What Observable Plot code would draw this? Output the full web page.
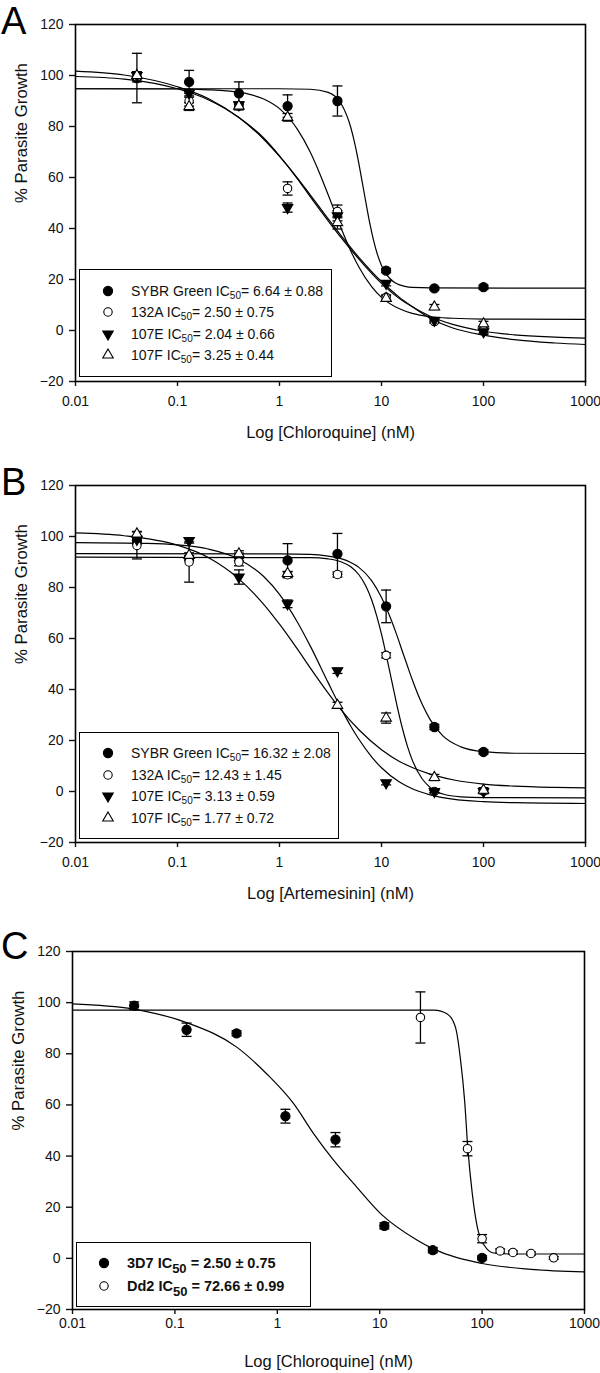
<!DOCTYPE html>
<html>
<head>
<meta charset="utf-8">
<script src="https://cdn.jsdelivr.net/npm/d3@7"></script>
<script src="https://cdn.jsdelivr.net/npm/@observablehq/plot@0.6"></script>
<style>
  body { margin: 0; background: #fff; font-family: "Liberation Sans", Arial, sans-serif; }
  .panel { position: relative; width: 600px; overflow: hidden; }
  .panel svg { display: block; }
  .letter { position: absolute; left: 1px; font-size: 38px; line-height: 40px; color: #000; }
  .legend { position: absolute; box-sizing: border-box; border: 1.6px solid #000; background: #fff; }
  .legend .sym { position: absolute; width: 14px; height: 14px; }
  .legend .txt { position: absolute; font-size: 14px; line-height: 18px; white-space: nowrap; color: #111; }
  .legend .txt sub { font-size: 10px; vertical-align: -3px; line-height: 0; }
  .legend.bold .txt { font-weight: bold; font-size: 14.5px; }
  .legend.bold .txt sub { font-size: 13px; vertical-align: -5px; }
</style>
</head>
<body>
<div id="root"></div>
<script>
// ---------------- shared axes ----------------
const xTicks = [0.01, 0.1, 1, 10, 100, 1000];
const yTicks = [-20, 0, 20, 40, 60, 80, 100, 120];

// ---------------- Panel A : Chloroquine ----------------
const concA = [0.04, 0.13, 0.4, 1.2, 3.7, 11.1, 33, 100];
const aSybr    = [99.0, 97.5, 93.0, 88.0, 90.0, 23.5, 16.5, 17.0];
const aSybrErr = [9.7, 4.5, 4.5, 4.4, 5.9, 0.8, 0.5, 0.8];
const a132A    = [99.5, 90.0, 88.0, 55.7, 46.7, 13.0, 3.5, 0.0];
const a132AErr = [2.0, 2.0, 1.5, 2.6, 2.5, 1.0, 0.6, 1.0];
const a107E    = [100.0, 93.0, 88.5, 48.2, 45.0, 18.5, 4.0, -0.5];
const a107EErr = [1.0, 1.5, 1.0, 1.8, 2.0, 1.0, 0.6, 1.0];
const a107F    = [100.0, 87.8, 88.0, 83.6, 42.3, 12.6, 9.2, 2.6];
const a107FErr = [1.0, 1.5, 1.2, 1.5, 2.5, 1.0, 1.0, 1.0];

const aSybrCurveX = [0.01, 1, 2, 3, 4, 5, 5.5, 6, 6.5, 7, 7.5, 8, 9, 10, 11, 12, 14, 17, 20, 30, 1000];
const aSybrCurveY = [94.8, 94.8, 94.6, 93.4, 89.1, 79.6, 72.9, 65.4, 57.8, 50.6, 44.1, 38.7, 30.6, 25.5, 22.4, 20.5, 18.4, 17.3, 16.9, 16.7, 16.6];
const a132ACurveX = [0.01, 0.03, 0.1, 0.2, 0.4, 0.7, 1, 1.5, 2, 3, 4, 6, 10, 15, 20, 30, 50, 100, 200, 500, 1000];
const a132ACurveY = [101.7, 100.2, 95.6, 91.0, 83.5, 75.0, 68.3, 59.8, 53.2, 43.8, 37.3, 28.7, 19.2, 13.0, 9.4, 4.8, 1.0, -1.8, -3.6, -4.9, -5.5];
const a107ECurveX = [0.01, 0.03, 0.1, 0.2, 0.4, 0.7, 1, 1.5, 2, 3, 4, 6, 10, 15, 20, 30, 50, 100, 200, 500, 1000];
const a107ECurveY = [99.6, 98.6, 94.8, 90.5, 83.5, 75.5, 68.5, 59.5, 52.5, 43.0, 36.5, 28.0, 18.5, 12.5, 9.3, 5.6, 2.4, -0.3, -1.7, -2.6, -3.0];
const a107FCurveX = [0.01, 0.1, 0.2, 0.3, 0.5, 0.7, 1, 1.5, 2, 2.5, 3, 4, 5, 6, 8, 10, 15, 20, 30, 50, 100, 1000];
const a107FCurveY = [94.8, 94.7, 94.4, 94.0, 92.7, 90.8, 87.0, 78.9, 70.0, 61.2, 53.2, 40.3, 31.2, 24.9, 17.2, 13.0, 8.5, 6.7, 5.4, 4.8, 4.5, 4.4];
const legendA = [
  ["SYBR Green IC", "50", "= 6.64 ± 0.88"],
  ["132A IC", "50", "= 2.50 ± 0.75"],
  ["107E IC", "50", "= 2.04 ± 0.66"],
  ["107F IC", "50", "= 3.25 ± 0.44"]
];

// ---------------- Panel B : Artemesinin ----------------
const concB = [0.04, 0.13, 0.4, 1.2, 3.7, 11.1, 33, 100];
const bSybr    = [98.5, 91.5, 92.0, 90.6, 93.2, 72.6, 25.3, 15.5];
const bSybrErr = [1.5, 1.0, 1.5, 6.6, 8.0, 6.4, 1.0, 0.8];
const b132A    = [96.5, 90.0, 90.0, 85.0, 85.1, 53.4, 0.0, 0.1];
const b132AErr = [5.3, 7.9, 1.5, 1.2, 1.0, 1.0, 0.5, 1.0];
const b107E    = [98.9, 98.4, 84.1, 73.6, 47.3, 3.4, 0.0, 0.0];
const b107EErr = [1.2, 1.0, 2.8, 1.5, 1.0, 0.8, 0.5, 0.5];
const b107F    = [101.0, 92.6, 93.2, 85.5, 33.8, 28.8, 5.5, 0.5];
const b107FErr = [1.0, 1.0, 1.2, 0.8, 1.2, 2.0, 1.2, 1.0];

const bSybrCurveX = [0.01, 1, 2, 3, 4, 5, 6, 8, 10, 12, 14, 16, 18, 20, 25, 30, 40, 60, 100, 200, 1000];
const bSybrCurveY = [93.3, 93.2, 93.0, 92.3, 91.3, 89.8, 87.9, 82.7, 76.1, 68.9, 61.8, 55.0, 49.1, 43.9, 34.3, 28.2, 21.8, 17.5, 15.6, 15.0, 14.9];
const b132ACurveX = [0.01, 2, 3, 4, 5, 6, 7, 8, 9, 10, 11, 12, 13, 14, 16, 18, 20, 25, 30, 40, 60, 100, 1000];
const b132ACurveY = [91.9, 91.7, 91.2, 90.1, 88.1, 85.0, 80.7, 75.2, 68.7, 61.7, 54.4, 47.4, 40.8, 34.8, 24.9, 17.6, 12.4, 5.0, 1.6, -1.0, -2.1, -2.4, -2.5];
const b107ECurveX = [0.01, 0.05, 0.1, 0.2, 0.4, 0.7, 1, 1.5, 2, 3, 4, 5, 6, 8, 10, 15, 20, 30, 50, 100, 200, 1000];
const b107ECurveY = [97.6, 97.3, 96.7, 95.1, 91.1, 84.3, 77.3, 66.4, 57.1, 42.7, 32.7, 25.6, 20.5, 13.6, 9.3, 3.7, 1.1, -1.3, -3.0, -4.0, -4.4, -4.7];
const b107FCurveX = [0.01, 0.03, 0.1, 0.2, 0.4, 0.7, 1, 1.5, 2, 3, 4, 6, 10, 15, 20, 30, 50, 100, 200, 500, 1000];
const b107FCurveY = [101.4, 100.3, 96.6, 91.8, 83.4, 73.4, 65.6, 55.8, 48.5, 38.6, 32.1, 24.2, 16.4, 11.8, 9.4, 6.8, 4.6, 2.9, 2.1, 1.6, 1.4];
const legendB = [
  ["SYBR Green IC", "50", "= 16.32 ± 2.08"],
  ["132A IC", "50", "= 12.43 ± 1.45"],
  ["107E IC", "50", "= 3.13 ± 0.59"],
  ["107F IC", "50", "= 1.77 ± 0.72"]
];

// ---------------- Panel C : Chloroquine, 3D7 vs Dd2 ----------------
const conc3D7 = [0.04, 0.13, 0.4, 1.2, 3.7, 11.1, 33, 100];
const c3D7    = [98.8, 89.4, 88.0, 55.6, 46.4, 12.7, 3.2, 0.2];
const c3D7Err = [1.5, 2.6, 1.0, 2.7, 2.8, 1.2, 1.0, 0.8];
const concDd2 = [25, 72, 100, 150, 200, 300, 500];
const cDd2    = [94.2, 42.9, 7.7, 2.9, 2.3, 1.9, 0.2];
const cDd2Err = [10.0, 2.8, 1.6, 0.8, 0.6, 0.6, 0.5];

const c3D7CurveX = [0.01, 0.039, 0.128, 0.405, 0.79, 1.45, 2.27, 3.56, 5.58, 10.2, 23.3, 33, 100, 300, 1000];
const c3D7CurveY = [99.5, 97.5, 92.3, 82.5, 72.1, 60.4, 48.7, 38.3, 29.2, 17.5, 7.1, 3.8, -2.0, -4.3, -5.3];
const cDd2CurveX = [0.01, 34, 45.7, 55, 61.7, 67.5, 72.6, 80.2, 89.7, 105, 129, 200, 1000];
const cDd2CurveY = [97.1, 97.1, 95.6, 90.3, 77.3, 61.7, 42.9, 25.3, 12.3, 5.1, 2.1, 1.7, 1.7];
const legendC = [
  ["3D7 IC", "50", " = 2.50 ± 0.75"],
  ["Dd2 IC", "50", " = 72.66 ± 0.99"]
];

// ---------------- styling helpers ----------------
const markers = {
  filledCircle: {symbol: "circle", fill: "black", r: 4.6, rotate: 0},
  openCircle:   {symbol: "circle", fill: "white", r: 4.2, rotate: 0},
  filledDown:   {symbol: "triangle", fill: "black", r: 3.9, rotate: 180},
  openUp:       {symbol: "triangle", fill: "white", r: 3.9, rotate: 0}
};
const capSymbol = {draw(ctx) { ctx.moveTo(-5, 0); ctx.lineTo(5, 0); }};
const FONT = "'Liberation Sans', Arial, sans-serif";

function buildSeries(list) {
  return list.map(([marker, conc, vals, errs, cx, cy]) => ({
    marker,
    points: conc.map((c, i) => ({x: c, y: vals[i], lo: vals[i] - errs[i], hi: vals[i] + errs[i]})),
    curve: cx.map((c, i) => ({x: c, y: cy[i]}))
  }));
}

function makePlot({height, marginTop, marginBottom, marginLeft, marginRight, xTitle, series, xLabelPad, xTitleOffset}) {
  const marks = [
    Plot.axisX({ticks: xTicks, tickFormat: d => String(d), tickSize: 5, tickPadding: xLabelPad, label: null,
                fontSize: 14, strokeWidth: 1.4, fill: "#111"}),
    Plot.axisY({ticks: yTicks, tickSize: 6, tickPadding: 6, label: null, fontSize: 14, strokeWidth: 1.4, fill: "#111"})
  ];
  for (const s of series) {
    marks.push(Plot.line(s.curve, {x: "x", y: "y", curve: "monotone-x", stroke: "black", strokeWidth: 1.2}));
  }
  for (const s of series) {
    marks.push(Plot.ruleX(s.points, {x: "x", y1: "lo", y2: "hi", stroke: "black", strokeWidth: 1.3}));
    marks.push(Plot.dot(s.points, {x: "x", y: "lo", symbol: capSymbol, fill: "none", stroke: "black", strokeWidth: 1.3}));
    marks.push(Plot.dot(s.points, {x: "x", y: "hi", symbol: capSymbol, fill: "none", stroke: "black", strokeWidth: 1.3}));
  }
  for (const s of series) {
    const m = markers[s.marker];
    marks.push(Plot.dot(s.points, {x: "x", y: "y", symbol: m.symbol, r: m.r, rotate: m.rotate,
                                   fill: m.fill, stroke: "black", strokeWidth: 1.1}));
  }
  marks.push(Plot.frame({stroke: "black", strokeWidth: 1.6}));
  marks.push(Plot.text([xTitle], {text: d => d, frameAnchor: "bottom", dy: xTitleOffset, lineAnchor: "middle",
                                  fontSize: 16.5, fill: "#111"}));
  marks.push(Plot.text(["% Parasite Growth"], {text: d => d, frameAnchor: "left", rotate: -90, dx: -54,
                                               lineAnchor: "middle", fontSize: 16.8, fill: "#111"}));
  return Plot.plot({
    width: 600, height, marginTop, marginBottom, marginLeft, marginRight,
    style: {fontFamily: FONT, fontSize: "14px", color: "#111", background: "white", overflow: "visible"},
    x: {type: "log", domain: [0.01, 1000]},
    y: {domain: [-20, 120]},
    marks
  });
}

function symbolSvg(marker) {
  const m = markers[marker];
  const type = m.symbol === "circle" ? d3.symbolCircle : d3.symbolTriangle;
  const path = d3.symbol().type(type).size(Math.PI * m.r * m.r)();
  return `<svg class="sym-svg" width="14" height="14" viewBox="-7 -7 14 14"><path d="${path}" transform="rotate(${m.rotate})" fill="${m.fill}" stroke="black" stroke-width="1.1"/></svg>`;
}

function addPanel({letter, letterTop, height, plotOpts, legend}) {
  const div = document.createElement("div");
  div.className = "panel";
  div.style.height = height + "px";
  div.appendChild(makePlot({height, ...plotOpts}));
  const L = document.createElement("div");
  L.className = "letter";
  L.style.top = letterTop + "px";
  L.textContent = letter;
  div.appendChild(L);
  const box = document.createElement("div");
  box.className = "legend" + (legend.bold ? " bold" : "");
  Object.assign(box.style, {left: legend.left + "px", top: legend.top + "px",
    width: legend.width + "px", height: legend.height + "px"});
  legend.rows.forEach((row, i) => {
    const cy = legend.rowY[i] - legend.top;
    const sym = document.createElement("div");
    sym.className = "sym";
    sym.style.left = (legend.symX - legend.left - 7) + "px";
    sym.style.top = (cy - 7) + "px";
    sym.innerHTML = symbolSvg(legend.markers[i]);
    box.appendChild(sym);
    const t = document.createElement("div");
    t.className = "txt";
    t.style.left = (legend.textX - legend.left) + "px";
    t.style.top = (cy - 9) + "px";
    t.innerHTML = `${row[0]}<sub>${row[1]}</sub>${row[2]}`;
    box.appendChild(t);
  });
  div.appendChild(box);
  document.getElementById("root").appendChild(div);
}

const seriesA = buildSeries([
  ["filledCircle", concA, aSybr, aSybrErr, aSybrCurveX, aSybrCurveY],
  ["openCircle", concA, a132A, a132AErr, a132ACurveX, a132ACurveY],
  ["filledDown", concA, a107E, a107EErr, a107ECurveX, a107ECurveY],
  ["openUp", concA, a107F, a107FErr, a107FCurveX, a107FCurveY]
]);
const seriesB = buildSeries([
  ["filledCircle", concB, bSybr, bSybrErr, bSybrCurveX, bSybrCurveY],
  ["openCircle", concB, b132A, b132AErr, b132ACurveX, b132ACurveY],
  ["filledDown", concB, b107E, b107EErr, b107ECurveX, b107ECurveY],
  ["openUp", concB, b107F, b107FErr, b107FCurveX, b107FCurveY]
]);
const seriesC = buildSeries([
  ["filledCircle", conc3D7, c3D7, c3D7Err, c3D7CurveX, c3D7CurveY],
  ["openCircle", concDd2, cDd2, cDd2Err, cDd2CurveX, cDd2CurveY]
]);

addPanel({
  letter: "A", letterTop: 1, height: 461,
  plotOpts: {marginTop: 24, marginBottom: 80, marginLeft: 75, marginRight: 15,
             xTitle: "Log [Chloroquine] (nM)", series: seriesA, xLabelPad: 10, xTitleOffset: 51},
  legend: {left: 79, top: 269, width: 253, height: 108, symX: 107, textX: 130,
           rowY: [289.5, 311, 332.5, 354], rows: legendA,
           markers: ["filledCircle", "openCircle", "filledDown", "openUp"]}
});
addPanel({
  letter: "B", letterTop: 1, height: 465,
  plotOpts: {marginTop: 24, marginBottom: 84, marginLeft: 75, marginRight: 15,
             xTitle: "Log [Artemesinin] (nM)", series: seriesB, xLabelPad: 10, xTitleOffset: 51},
  legend: {left: 79, top: 271, width: 260, height: 107, symX: 107, textX: 130,
           rowY: [291, 312.5, 334, 355.5], rows: legendB,
           markers: ["filledCircle", "openCircle", "filledDown", "openUp"]}
});
addPanel({
  letter: "C", letterTop: 0, height: 447,
  plotOpts: {marginTop: 25, marginBottom: 64, marginLeft: 72, marginRight: 16,
             xTitle: "Log [Chloroquine] (nM)", series: seriesC, xLabelPad: 4, xTitleOffset: 52},
  legend: {left: 76, top: 316, width: 235, height: 65, symX: 103, textX: 126, bold: true,
           rowY: [335.5, 358.5], rows: legendC,
           markers: ["filledCircle", "openCircle"]}
});
</script>
</body>
</html>
